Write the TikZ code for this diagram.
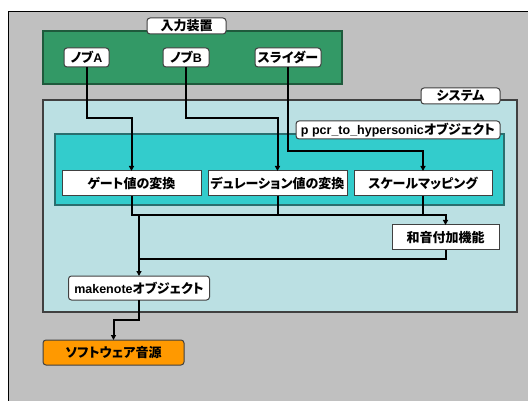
\documentclass[tikz,border=0pt]{standalone}
\usepackage{fontspec}
\setmainfont{Liberation Sans}
\newfontfamily\jp{Noto Sans CJK JP}[RawFeature=+palt]
\usetikzlibrary{arrows.meta,calc}
\definecolor{bggray}{HTML}{C0C0C0}
\definecolor{dgreen}{HTML}{339966}
\definecolor{dgreenline}{HTML}{1F5A3C}
\definecolor{lblue}{HTML}{BBE0E3}
\definecolor{teal2}{HTML}{33CCCC}
\definecolor{tealline}{HTML}{2A6E6E}
\definecolor{orng}{HTML}{FF9900}
\definecolor{bordergray}{HTML}{404040}
\newcommand\lat[1]{{\rmfamily\fontsize{12.5}{14}\selectfont #1}}
\tikzset{
  x=1pt,y=-1pt,
  every node/.style={font=\jp\bfseries\fontsize{13}{15}\selectfont, inner sep=0pt, outer sep=0pt},
  lab/.style={draw=bordergray, fill=white, line width=1pt, rounded corners=3pt},
  proc/.style={draw=bordergray, fill=white, line width=1pt},
  conn/.style={line width=2pt, black},
  arr/.style={conn, -{Triangle[length=5pt,width=5pt]}},
}
\begin{document}
\begin{tikzpicture}
\useasboundingbox (0,0) rectangle (528,401);
\fill[white] (0,0) rectangle (528,401);
% outer gray area
\draw[fill=bggray, draw=black, line width=0.8pt] (8,11) rectangle (600,500);
% input device frame
\node[draw=dgreenline, fill=dgreen, line width=1.5pt, minimum width=299pt, minimum height=53pt] (green) at (192.5,57.5) {};
\node[lab, minimum width=79pt, minimum height=16pt] (inlab) at (186.5,26) {入力装置};
\node[lab, minimum width=45pt, minimum height=19pt] (knobA) at (86.5,57.5) {ノブ\lat{A}};
\node[lab, minimum width=46pt, minimum height=19pt] (knobB) at (186,57.5) {ノブ\lat{B}};
\node[lab, minimum width=66pt, minimum height=19pt] (slider) at (288,57.5) {スライダー};
% system frame
\node[draw=bordergray, fill=lblue, line width=1.2pt, minimum width=474pt, minimum height=212pt] (sys) at (280,206) {};
\node[lab, minimum width=79pt, minimum height=16pt] (syslab) at (460.5,96) {システム};
% pcr object frame
\node[draw=tealline, fill=teal2, line width=1.2pt, minimum width=449pt, minimum height=71pt] (pcr) at (279.5,169.5) {};
\node[lab, minimum width=204pt, minimum height=18pt] (pcrlab) at (398,130) {\lat{p pcr\_to\_hypersonic}オブジェクト};
% processes
\node[proc, minimum width=139pt, minimum height=25pt] (gate) at (131.5,183.5) {ゲート値の変換};
\node[proc, minimum width=139pt, minimum height=25pt] (dur) at (277.5,183.5) {デュレーション値の変換};
\node[proc, minimum width=138pt, minimum height=25pt] (scale) at (423,183.5) {スケールマッピング};
\node[proc, minimum width=107pt, minimum height=25pt] (chord) at (445.5,237.5) {和音付加機能};
\node[lab, minimum width=141pt, minimum height=24pt] (mk) at (139,288) {\lat{makenote}オブジェクト};
\node[lab, fill=orng, minimum width=141pt, minimum height=25pt] (soft) at (113.5,352.5) {ソフトウェア音源};
% helper rows
\coordinate (rowA) at (0,118);
\coordinate (rowS) at (0,151);
\coordinate (rowM) at (0,215);
\coordinate (rowN) at (0,259);
\coordinate (rowO) at (0,320);
% connectors
\draw[arr] (knobA.south) |- (gate.north |- rowA) -- (gate.north);
\draw[arr] (knobB.south) |- (dur.north |- rowA) -- (dur.north);
\draw[arr] (slider.south) |- (scale.north |- rowS) -- (scale.north);
\draw[conn] (dur.south) -- (dur.south |- rowM);
\draw[conn] (scale.south) -- (scale.south |- rowM);
\draw[arr] (gate.south) |- (chord.north |- rowM) -- (chord.north);
\draw[conn] (mk.north |- rowM) -- (mk.north |- rowN);
\draw[arr] (chord.south) |- (mk.north |- rowN) -- (mk.north);
\draw[arr] (mk.south) |- (soft.north |- rowO) -- (soft.north);
\end{tikzpicture}
\end{document}
